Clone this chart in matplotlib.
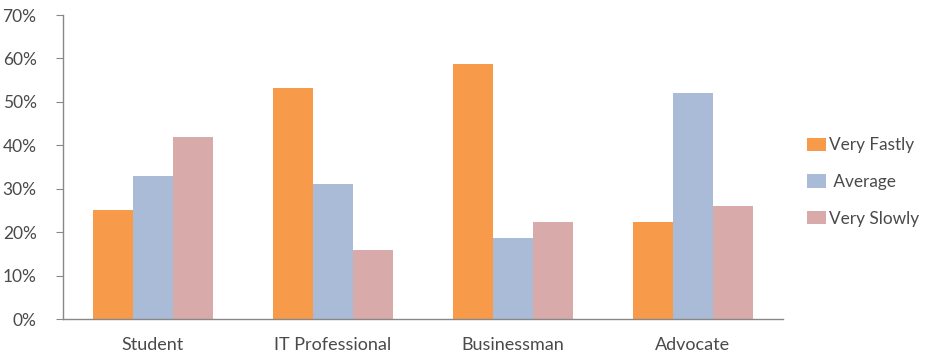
import numpy as np
import matplotlib.pyplot as plt
from matplotlib.ticker import PercentFormatter

plt.rcParams['font.family'] = ['Lato', 'DejaVu Sans']

# chart data (percent)
categories = ["Student", "IT Professional", "Businessman", "Advocate"]
series_names = ["Very Fastly", " Average", "Very Slowly"]
very_fastly = [25, 53.2, 58.8, 22.3]
average = [33, 31, 18.6, 52.1]
very_slowly = [42, 16, 22.3, 26]
colors = ["#F79A4A", "#AABBD8", "#D9AAAA"]

fig = plt.figure(figsize=(9.29, 3.53), dpi=100)
ax = fig.add_axes([63 / 929, 34 / 353, 720 / 929, 304 / 353])

x = np.arange(len(categories))
width = 0.222
for i, (vals, name) in enumerate(zip([very_fastly, average, very_slowly], series_names)):
    ax.bar(x + (i - 1) * width, vals, width, color=colors[i], label=name, linewidth=0)

ax.set_xlim(-0.5, len(categories) - 0.5)
ax.set_ylim(0, 70)
ax.set_yticks(np.arange(0, 71, 10))
ax.yaxis.set_major_formatter(PercentFormatter(decimals=0))
ax.set_xticks(x)
ax.set_xticklabels(categories)

text_color = "#4a4a4a"
ax.tick_params(axis='y', direction='out', length=5, color='#888888', labelsize=12.5,
               labelcolor=text_color, pad=14)
ax.tick_params(axis='x', length=0, labelsize=13, labelcolor=text_color, pad=13)
for s in ['top', 'right']:
    ax.spines[s].set_visible(False)
for s in ['left', 'bottom']:
    ax.spines[s].set_color('#888888')
    ax.spines[s].set_linewidth(1)

leg = fig.legend(loc='center left', bbox_to_anchor=(792 / 929, 1 - 182 / 353), frameon=False,
                 fontsize=12.4, handlelength=1.1, handleheight=0.8, handletextpad=0.15,
                 labelspacing=1.2, labelcolor=text_color)

fig.savefig("out.png", dpi=100)
